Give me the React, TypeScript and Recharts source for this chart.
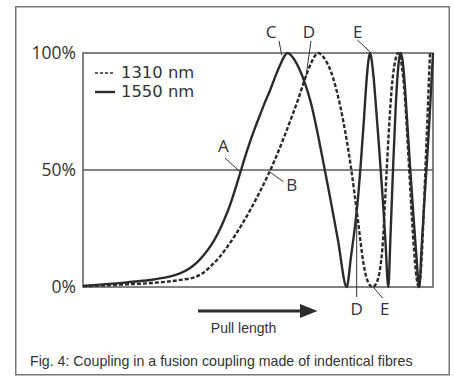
import React from 'react';
import {
  LineChart,
  Line,
  XAxis,
  YAxis,
  ReferenceLine,
  ReferenceArea,
  ReferenceDot,
  Legend,
} from 'recharts';

// Pull length (arbitrary units) and coupled power (%) for the 1550 nm wavelength
const pullLength1550 = [
  0, 17, 44, 67, 85, 97, 106, 114, 121, 128,
  135, 141, 147, 152, 157, 162, 167, 172, 177, 182,
  187, 191, 195, 198.5, 201.5, 204.5, 210, 216, 222, 228,
  234, 240, 247, 255, 263.7, 268, 272, 275, 278, 281,
  283.5, 285.5, 287, 288.5, 290.5, 293, 295.5, 297.7, 300, 302.5,
  305.3, 307.5, 310, 312.5, 314.5, 316, 317.7, 319.5, 321.5, 324,
  327, 330, 333, 336.3, 338.5, 341, 343.7, 346, 348, 350,
];
const coupling1550 = [
  0.5, 1, 2, 3, 4.3, 5.8, 7.8, 10.5, 13.8, 17.8,
  23, 28.5, 35, 41.5, 48.5, 55.5, 62, 68, 73.5, 79,
  84, 88.5, 92.8, 96.2, 98.7, 100, 98, 93.5, 87, 78.5,
  67, 54, 38.5, 20, 0, 13, 26, 38, 54, 72,
  88, 97, 100, 97.5, 90, 77, 63, 50, 36, 19,
  0, 22, 50, 75, 90, 97, 100, 97, 88, 72,
  52, 33, 15.5, 0, 16, 34, 52, 68, 84, 100,
];

// Pull length and coupled power (%) for the 1310 nm wavelength
const pullLength1310 = [
  0, 37, 77, 100, 112, 120, 128, 136, 144, 152,
  160, 168, 176, 185, 193, 201, 209, 215, 220, 225,
  229, 232, 235.3, 240, 245, 250, 255, 260, 264, 268,
  271.5, 274.5, 277.5, 280.5, 283.5, 286.5, 289.5, 292.5, 295, 297.5,
  300, 302, 303.7, 305.5, 307.5, 309.5, 311.5, 313.5, 315.3, 317,
  319, 321, 323, 325, 327, 329, 331, 333, 334.5, 335.8,
  337.5, 339, 340.5, 342, 343.5, 345, 346, 347,
];
const coupling1310 = [
  0.3, 1, 2, 3.2, 4.2, 6, 9, 12.5, 17, 22,
  27.5, 33.5, 40, 47.8, 55.5, 64, 73, 80, 86.5, 92.5,
  96.5, 98.8, 100, 98.5, 95, 89.5, 81.5, 71.5, 62, 51,
  40, 30, 19.5, 10, 4, 1, 0, 1, 3.5, 9,
  20, 36, 50, 64, 78, 88.5, 95, 98.8, 100, 98.5,
  94, 86, 74, 59, 44, 29, 16, 6, 1.5, 0,
  5, 15, 30, 46, 62, 78, 89, 100,
];

const yTicks = [0, 50, 100];
const seriesNames = ['1310 nm', '1550 nm'];

const data1550 = pullLength1550.map((x, i) => ({ x, y: coupling1550[i] }));
const data1310 = pullLength1310.map((x, i) => ({ x, y: coupling1310[i] }));

// Annotation letters (in chart coordinates)
const annotationLabels = [
  { text: 'C', x: 188, y: 109.1 },
  { text: 'D', x: 226, y: 109.1 },
  { text: 'E', x: 274.7, y: 109.1 },
  { text: 'A', x: 140.3, y: 60.1 },
  { text: 'B', x: 208.7, y: 43.6 },
  { text: 'D', x: 273.7, y: -9.5 },
  { text: 'E', x: 301.7, y: -9.5 },
];
const annotationLeaders = [
  [{ x: 196, y: 105.2 }, { x: 198.7, y: 99.1 }],
  [{ x: 228, y: 105.2 }, { x: 223, y: 89.9 }],
  [{ x: 274.3, y: 105.6 }, { x: 287, y: 100.5 }],
  [{ x: 142, y: 55.1 }, { x: 157, y: 49.3 }],
  [{ x: 187, y: 49.1 }, { x: 200.3, y: 45 }],
  [{ x: 273.7, y: 30.8 }, { x: 273.7, y: -4.3 }],
  [{ x: 290.3, y: 0 }, { x: 299.7, y: -4.8 }],
];

const INK = '#2b2b2b';
const TEXT = '#333';
const FRAME = '#5a5a5a';
const SANS = '"Open Sans", "Noto Sans", sans-serif';
const LEGEND_FONT = '"DejaVu Sans", "Open Sans", sans-serif';
const ARIAL = '"Liberation Sans", Arial, sans-serif';

const LegendContent = () => (
  <div style={{ fontFamily: LEGEND_FONT, fontSize: 16.4, color: TEXT }}>
    {seriesNames.map((name, i) => (
      <div key={name} style={{ height: 19.3, lineHeight: '19.3px', position: 'relative', whiteSpace: 'nowrap' }}>
        <svg width={22} height={19.3} style={{ position: 'absolute', left: 0, top: 0 }}>
          <line
            x1={0}
            x2={20}
            y1={10}
            y2={10}
            stroke={INK}
            strokeWidth={i === 0 ? 1.6 : 2.4}
            strokeDasharray={i === 0 ? '3 2' : undefined}
          />
        </svg>
        <span
          style={{
            position: 'absolute',
            left: 26,
            top: 0,
            display: 'block',
            height: 19.3,
            lineHeight: '19.3px',
          }}
        >
          {name}
        </span>
      </div>
    ))}
  </div>
);

export default function App() {
  return (
    <div style={{ position: 'absolute', left: 0, top: 0, width: 454, height: 376, background: '#fff' }}>
      <svg width={454} height={376} style={{ position: 'absolute', left: 0, top: 0 }}>
        <rect x={15.75} y={6.75} width={433.5} height={368} fill="none" stroke="#777" strokeWidth={1.5} />
        <line x1={198} x2={302} y1={311} y2={311} stroke={INK} strokeWidth={3} />
        <polygon points="300,304 317.5,311 300,318" fill={INK} />
        <text x={243.5} y={333} textAnchor="middle" fontFamily={ARIAL} fontSize={14} fill={TEXT}>
          Pull length
        </text>
        <text x={30} y={366} fontFamily={ARIAL} fontSize={14.2} fill={TEXT}>
          Fig. 4: Coupling in a fusion coupling made of indentical fibres
        </text>
      </svg>
      <div style={{ position: 'absolute', left: 0, top: 0 }}>
        <LineChart width={454} height={376} margin={{ top: 53, right: 21, bottom: 89, left: 23 }}>
          <XAxis type="number" dataKey="x" domain={[0, 350]} hide />
          <YAxis
            type="number"
            domain={[0, 100]}
            ticks={yTicks}
            tickFormatter={(v: number) => `${v}%`}
            axisLine={false}
            tickLine={false}
            tickSize={5}
            tickMargin={2}
            width={60}
            tick={{ fontFamily: SANS, fontSize: 17.5, fill: TEXT }}
          />
          <ReferenceArea x1={0} x2={350} y1={0} y2={100} fill="none" stroke={FRAME} strokeWidth={1.5} ifOverflow="visible" />
          <ReferenceLine y={50} stroke={FRAME} strokeWidth={1.3} />
          <Line
            data={data1310}
            dataKey="y"
            name={seriesNames[0]}
            type="monotone"
            dot={false}
            stroke={INK}
            strokeWidth={2.4}
            strokeDasharray="4 2"
            isAnimationActive={false}
          />
          <Line
            data={data1550}
            dataKey="y"
            name={seriesNames[1]}
            type="monotone"
            dot={false}
            stroke={INK}
            strokeWidth={2.4}
            isAnimationActive={false}
          />
          {annotationLeaders.map((seg, i) => (
            <ReferenceLine
              key={`l${i}`}
              segment={seg}
              stroke={TEXT}
              strokeWidth={1}
              ifOverflow="visible"
            />
          ))}
          {annotationLabels.map((lab, i) => (
            <ReferenceDot
              key={`t${i}`}
              x={lab.x}
              y={lab.y}
              r={0}
              ifOverflow="visible"
              shape={(p: any) => (
                <text
                  x={p.cx}
                  y={p.cy}
                  dy="0.357em"
                  textAnchor="middle"
                  fontFamily={SANS}
                  fontSize={17}
                  fill={TEXT}
                >
                  {lab.text}
                </text>
              )}
            />
          ))}
          <Legend
            layout="vertical"
            align="center"
            verticalAlign="middle"
            content={<LegendContent />}
            wrapperStyle={{ position: 'absolute', left: 95, top: 63, width: 120, height: 40 }}
          />
        </LineChart>
      </div>
    </div>
  );
}
